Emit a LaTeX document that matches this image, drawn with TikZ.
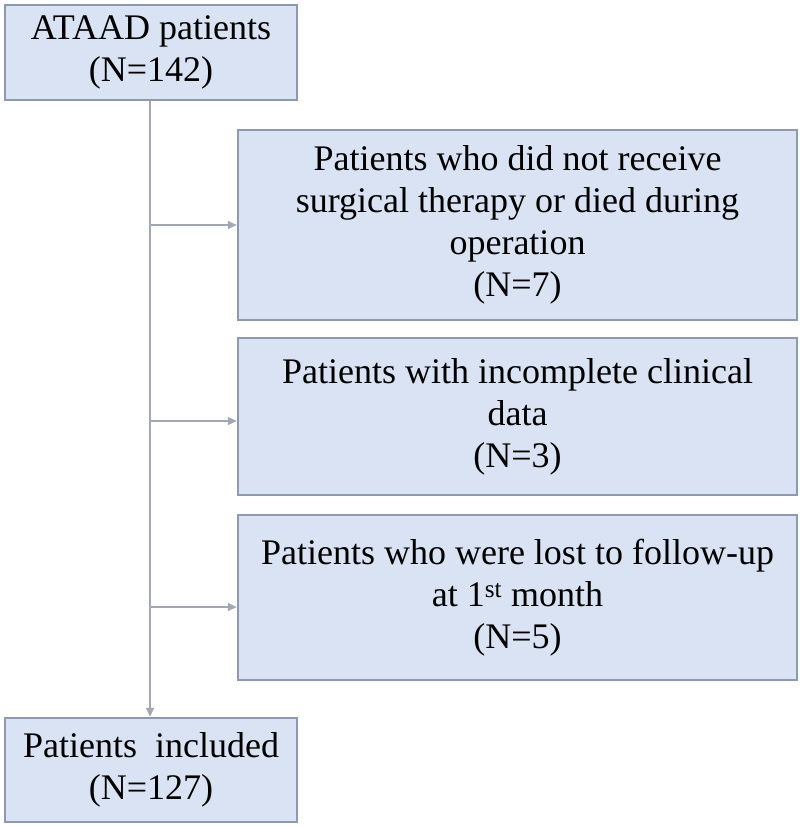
\documentclass[tikz,border=0pt]{standalone}
\usepackage{fontspec}
\setmainfont{Liberation Serif}
\usetikzlibrary{arrows.meta}
\definecolor{bfill}{HTML}{DAE3F3}
\definecolor{bdraw}{HTML}{8E9AB0}
\definecolor{lcol}{HTML}{A3A8B5}
\begin{document}
\begin{tikzpicture}[x=1pt,y=-1pt,
 box/.style={draw=bdraw,line width=2.5pt,fill=bfill,inner sep=0pt,align=center,
   font=\fontsize{36}{42}\selectfont},
 conn/.style={draw=lcol,line width=2pt},
 arr/.style={conn,-{Triangle[length=9pt,width=8pt]}}]
\useasboundingbox (0,0) rectangle (800,827);
\node[box,minimum width=292pt,minimum height=95pt] (a) at (151,52.5) {ATAAD patients\\(N=142)};
\node[box,minimum width=559pt,minimum height=190pt] (b) at (517.5,225) {Patients who did not receive\\surgical therapy or died during\\operation\\(N=7)};
\node[box,minimum width=559pt,minimum height=157pt] (c) at (517.5,416.5) {Patients with incomplete clinical\\data\\(N=3)};
\node[box,minimum width=559pt,minimum height=165pt] (d) at (517.5,597.5) {Patients who were lost to follow-up\\at 1\textsuperscript{st} month\\(N=5)};
\node[box,minimum width=292pt,minimum height=104pt] (e) at (151,770) {Patients\ \ included\\(N=127)};
\draw[arr] (a.south -| 150,0) -- (e.north -| 150,0);
\coordinate (j1) at (150,225);
\coordinate (j2) at (150,421);
\coordinate (j3) at (150,607);
\draw[arr] (j1) -- (j1 -| b.west);
\draw[arr] (j2) -- (j2 -| c.west);
\draw[arr] (j3) -- (j3 -| d.west);
\end{tikzpicture}
\end{document}
